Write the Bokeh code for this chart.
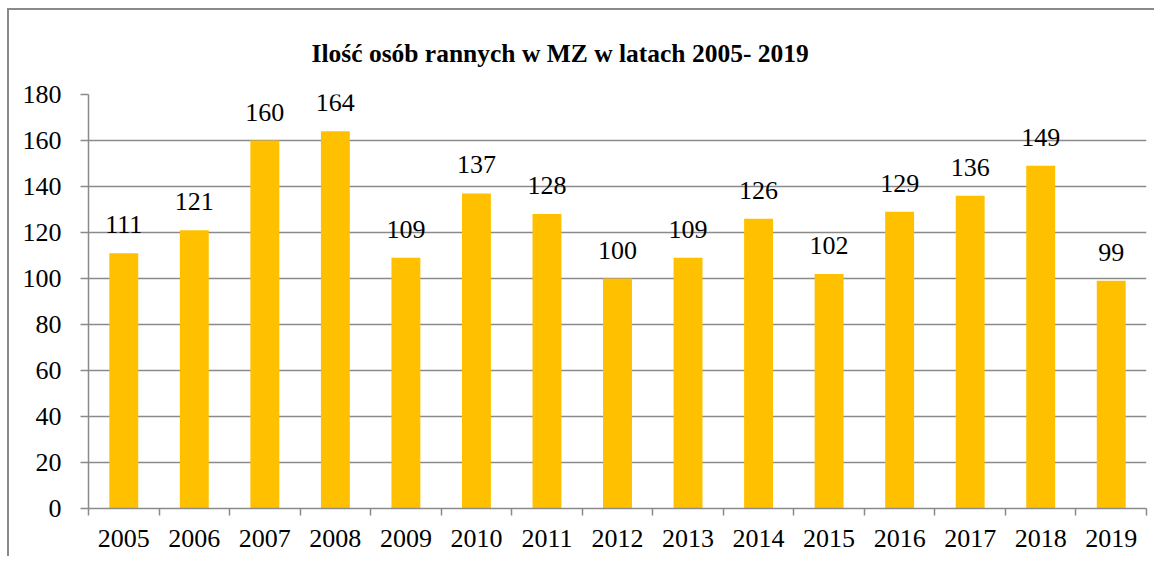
from bokeh.plotting import figure
from bokeh.models import Range1d, FixedTicker, ColumnDataSource
from bokeh.embed import file_html
from bokeh.resources import INLINE

years = ["2005", "2006", "2007", "2008", "2009", "2010", "2011", "2012",
         "2013", "2014", "2015", "2016", "2017", "2018", "2019"]
injured = [111, 121, 160, 164, 109, 137, 128, 100, 109, 126, 102, 129, 136, 149, 99]
y_ticks = [0, 20, 40, 60, 80, 100, 120, 140, 160, 180]
title_text = "Ilość osób rannych w MZ w latach 2005- 2019"

FONT = "Liberation Serif"
GRAY = "#8a8a8a"
GOLD = "#FFC000"

n = len(years)
centers = [i + 0.5 for i in range(n)]
bounds = [float(i) for i in range(n + 1)]

src = ColumnDataSource(dict(x=centers, y=injured, label=[str(v) for v in injured]))

p = figure(width=1147, height=548, output_backend="svg", toolbar_location=None,
           x_range=Range1d(0, n), y_range=Range1d(0, 180),
           min_border_left=79, min_border_right=10, min_border_top=84, min_border_bottom=50,
           background_fill_color="white", border_fill_color="white")
p.styles = {"border-left": "2px solid #8a8a8a", "border-top": "2px solid #8a8a8a",
            "margin-left": "7px", "margin-top": "8px"}
p.outline_line_color = None

p.title.text = title_text
p.title.align = "left"
p.title.offset = 223
p.title.text_font = FONT
p.title.text_font_size = "25.5px"
p.title.text_font_style = "bold"
p.title.text_color = "black"
p.title.standoff = 53

p.vbar(x="x", top="y", width=0.41, bottom=0, source=src, fill_color=GOLD, line_color=None)
p.text(x="x", y="y", text="label", source=src, text_align="center", text_baseline="bottom",
       y_offset=-20, text_font={"value": FONT}, text_font_size="26px", text_color="black")

# grid
p.xgrid.grid_line_color = None
p.ygrid.grid_line_color = GRAY
p.ygrid.grid_line_width = 1.5
p.ygrid.ticker = FixedTicker(ticks=y_ticks)

# y axis
p.yaxis.ticker = FixedTicker(ticks=y_ticks)
p.yaxis.axis_line_color = GRAY
p.yaxis.axis_line_width = 1.5
p.yaxis.major_tick_line_color = GRAY
p.yaxis.major_tick_line_width = 1.5
p.yaxis.major_tick_out = 8
p.yaxis.major_tick_in = 0
p.yaxis.minor_tick_line_color = None
p.yaxis.major_label_standoff = 19
p.yaxis.major_label_text_font = FONT
p.yaxis.major_label_text_font_size = "26px"
p.yaxis.major_label_text_color = "black"

# x axis: labels at bar centers, ticks at category boundaries
p.xaxis.ticker = FixedTicker(ticks=centers, minor_ticks=bounds)
p.xaxis.major_label_overrides = {c: y for c, y in zip(centers, years)}
p.xaxis.axis_line_color = GRAY
p.xaxis.axis_line_width = 1.5
p.xaxis.major_tick_line_color = None
p.xaxis.minor_tick_line_color = GRAY
p.xaxis.minor_tick_line_width = 1.5
p.xaxis.minor_tick_out = 7
p.xaxis.minor_tick_in = 0
p.xaxis.major_label_standoff = 14
p.xaxis.major_label_text_font = FONT
p.xaxis.major_label_text_font_size = "26px"
p.xaxis.major_label_text_color = "black"

open("out.html", "w").write(file_html(p, INLINE))
